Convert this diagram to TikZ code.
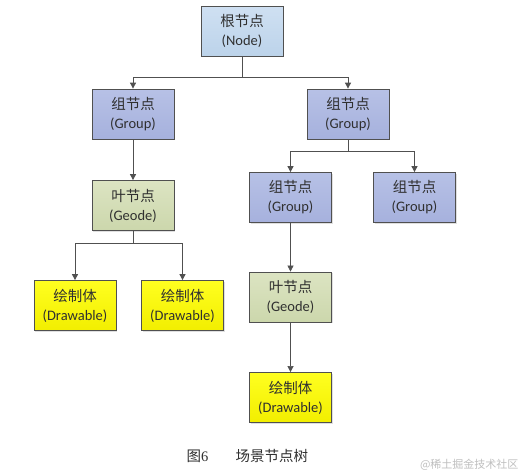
\documentclass[tikz,border=0pt]{standalone}
\usepackage{fontspec}
\setmainfont{Carlito}
\newfontfamily\cjk{Noto Sans CJK SC}
\newfontfamily\capfont{Liberation Serif}
\usetikzlibrary{arrows.meta,shadows}
\definecolor{rootc}{HTML}{BCD3EA}
\definecolor{roott}{HTML}{CFE0F2}
\definecolor{grpc}{HTML}{A6B1DD}
\definecolor{grpt}{HTML}{B7C1E6}
\definecolor{geoc}{HTML}{CCD7AC}
\definecolor{geot}{HTML}{DCE4C2}
\definecolor{drwc}{HTML}{F2EE00}
\definecolor{drwt}{HTML}{FFFF20}
\definecolor{edge}{HTML}{505050}
\definecolor{txt}{HTML}{303030}
\tikzset{
  box/.style={draw=edge, line width=0.8pt, minimum width=82pt, minimum height=50pt,
    align=center, font=\fontsize{14.5}{19}\selectfont, text=txt, inner sep=0pt,
    drop shadow={shadow xshift=1pt, shadow yshift=-1pt, opacity=0.25}},
  rootbox/.style={box, top color=roott, bottom color=rootc},
  grpbox/.style={box, top color=grpt, bottom color=grpc},
  geobox/.style={box, top color=geot, bottom color=geoc},
  drwbox/.style={box, top color=drwt, bottom color=drwc},
  arr/.style={draw=edge, line width=0.9pt, -{Triangle[length=6pt,width=6pt]}},
  ln/.style={draw=edge, line width=0.9pt},
}
\begin{document}
\begin{tikzpicture}[x=1pt,y=-1pt]
\useasboundingbox[fill=white] (0,0) rectangle (526,475);
\node[rootbox] (root) at (242,31) {{\cjk 根节点}\\(Node)};
\node[grpbox] (g1) at (133,114) {{\cjk 组节点}\\(Group)};
\node[grpbox] (g2) at (348,114) {{\cjk 组节点}\\(Group)};
\node[geobox] (geo1) at (133,205.5) {{\cjk 叶节点}\\(Geode)};
\node[drwbox] (d1) at (75,305.5) {{\cjk 绘制体}\\(Drawable)};
\node[drwbox] (d2) at (182.5,305.5) {{\cjk 绘制体}\\(Drawable)};
\node[grpbox] (g3) at (290.5,197.5) {{\cjk 组节点}\\(Group)};
\node[grpbox] (g4) at (414.5,197.5) {{\cjk 组节点}\\(Group)};
\node[geobox] (geo2) at (290.5,297) {{\cjk 叶节点}\\(Geode)};
\node[drwbox] (d3) at (290.5,397.5) {{\cjk 绘制体}\\(Drawable)};
\coordinate (j1) at (242,77);
\coordinate (j2) at (348,151);
\coordinate (j3) at (133,243);
\draw[ln] (root.south) -- (j1);
\draw[arr] (j1) -| (g1.north);
\draw[arr] (j1) -| (g2.north);
\draw[arr] (g1.south) -- (geo1.north);
\draw[ln] (geo1.south) -- (j3);
\draw[arr] (j3) -| (d1.north);
\draw[arr] (j3) -| (d2.north);
\draw[ln] (g2.south) -- (j2);
\draw[arr] (j2) -| (g3.north);
\draw[arr] (j2) -| (g4.north);
\draw[arr, line width=0.6pt] (g3.south) -- (geo2.north);
\draw[arr, line width=0.6pt] (geo2.south) -- (d3.north);
\node[font=\fontsize{14.5}{16}\selectfont, text=txt, anchor=west] (cap1) at (183,456) {{\cjk 图}\capfont 6};
\node[font=\fontsize{14.5}{16}\selectfont, text=txt, anchor=west] (cap2) at (232,456) {\cjk 场景节点树};
\node[font=\fontsize{11}{12}\selectfont, text=black!25, anchor=east] (wm) at (522,465) {\cjk @稀土掘金技术社区};
\end{tikzpicture}
\end{document}
